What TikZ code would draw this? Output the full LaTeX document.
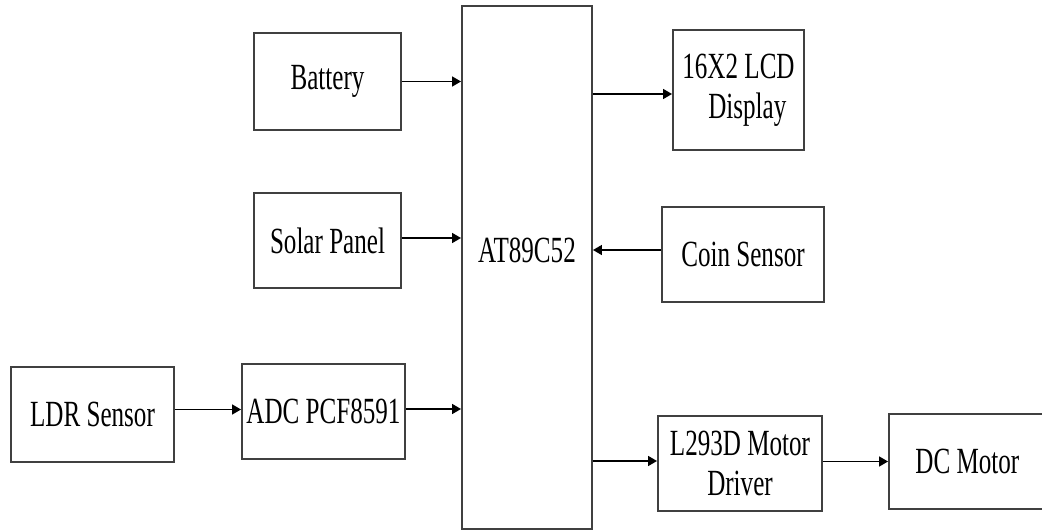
\documentclass[tikz,border=0pt]{standalone}
\usepackage{fontspec}
\setmainfont[FakeStretch=0.68]{Liberation Serif}
\usepackage{tikz}
\usetikzlibrary{arrows.meta}
\usetikzlibrary{positioning}

\begin{document}
\begin{tikzpicture}[
  block/.style={draw=black!75, line width=1.1pt, minimum height=19mm, align=center,
    inner sep=0pt, font=\fontsize{21}{23}\selectfont},
  link/.style={line width=0.9pt, -{Triangle[length=1.8mm, width=2mm]}}
]
\useasboundingbox (0,0) rectangle (20.84,-10.62);

\node[block, minimum width=29.4mm, minimum height=19.4mm] (battery) at (6.55, -1.63) {Battery};
\node[block, minimum width=29.4mm] (solar)   at (6.55, -4.81) {Solar Panel};
\node[block, minimum width=32.6mm] (ldr)     at (1.85, -8.29) {LDR Sensor};
\node[block, minimum width=32.6mm] (adc)     at (6.47, -8.23) {ADC PCF8591};
\node[block, minimum width=26mm, minimum height=104.6mm,
  label={[yshift=3.5mm, font=\fontsize{21}{23}\selectfont]center:AT89C52}] (mcu) at (10.54, -5.35) {};
\node[block, minimum width=26.2mm, minimum height=24mm] (lcd) at (14.77, -1.80) {16X2 LCD\\ \hspace*{10pt}Display};
\node[block, minimum width=32.4mm] (coin)    at (14.86, -5.09) {Coin Sensor};
\node[block, minimum width=32.8mm] (driver)  at (14.80, -9.27) {L293D Motor\\Driver};
\node[block, minimum width=32.4mm] (motor)   at (19.40, -9.23) {\hspace*{-3pt}DC Motor};

% inputs to the controller
\draw[link] (battery.east) -- (battery.east -| mcu.west);
\draw[link] ([yshift=0.5mm]solar.east) -- ([yshift=0.5mm]solar.east -| mcu.west);
\draw[link] ([yshift=0.5mm]adc.east) -- ([yshift=0.5mm]adc.east -| mcu.west);
\draw[link] ([yshift=1mm]ldr.east) -- ([yshift=1mm]ldr.east -| adc.west);
\draw[link] ([yshift=0.9mm]coin.west) -- ([yshift=0.9mm]coin.west -| mcu.east);

% outputs of the controller
\draw[link] ([yshift=-0.8mm]lcd.west -| mcu.east) -- ([yshift=-0.8mm]lcd.west);
\draw[link] ([yshift=0.5mm]driver.west -| mcu.east) -- ([yshift=0.5mm]driver.west);
\draw[link] (driver.east |- motor.west) -- (motor.west);
\end{tikzpicture}
\end{document}
